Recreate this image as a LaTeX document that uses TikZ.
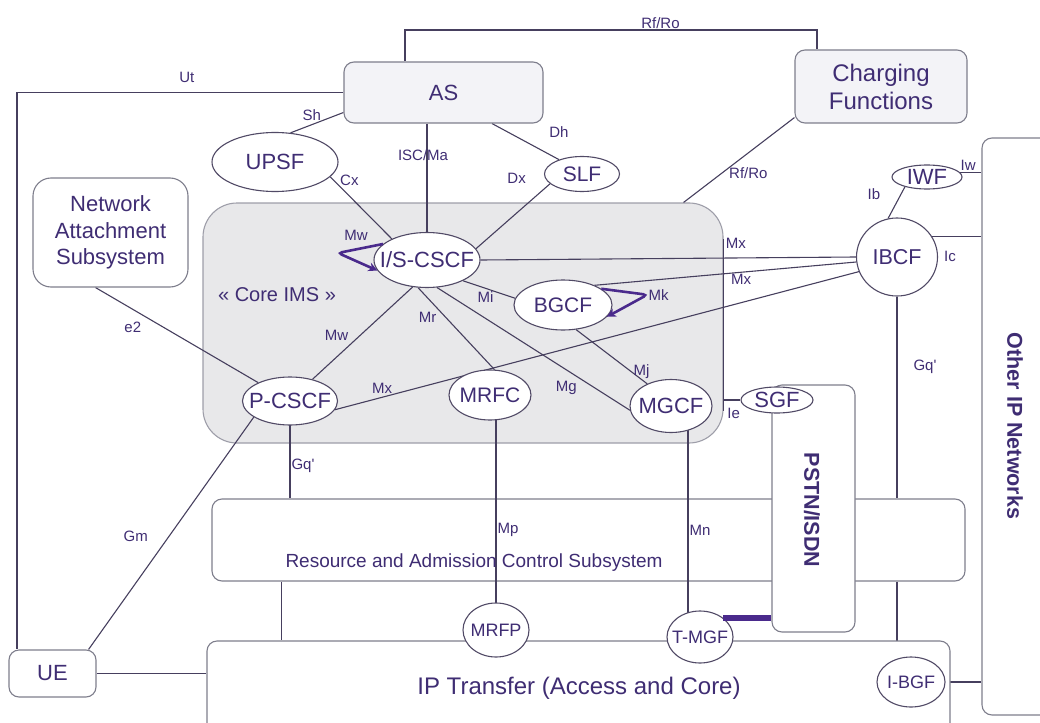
\documentclass[tikz,border=0pt]{standalone}
\usepackage{fontspec}
\setmainfont{Liberation Sans}
\usetikzlibrary{arrows.meta,positioning,shapes.geometric,backgrounds}
\definecolor{ink}{HTML}{3F2D73}
\definecolor{wire}{HTML}{463F5E}
\definecolor{rim}{HTML}{7E7E8C}
\definecolor{oval}{HTML}{514A66}
\definecolor{pale}{HTML}{F3F3F7}
\definecolor{coregray}{HTML}{E8E8EA}
\definecolor{deep}{HTML}{4A2A8C}
\pgfdeclarelayer{wires}
\pgfsetlayers{background,wires,main}
\tikzset{
  box/.style={draw=rim,line width=1.1pt,rounded corners=10pt,fill=white,text=ink,align=center,inner sep=0pt,font=\fontsize{22}{27}\selectfont},
  pbox/.style={box,fill=pale},
  ell/.style={ellipse,draw=oval,line width=1.1pt,fill=white,text=ink,inner sep=0pt,font=\fontsize{22}{26}\selectfont},
  sell/.style={ell,font=\fontsize{18}{22}\selectfont},
  ln/.style={draw=wire,line width=1.1pt},
  lbl/.style={text=ink,inner sep=1pt,font=\fontsize{15}{17}\selectfont},
  lp/.style={draw=deep,line width=2.6pt,rounded corners=4pt,-{Stealth[length=9pt,width=9pt]}},
  trunk/.style={draw=deep,line width=6pt},
  vtxt/.style={text=ink,rotate=-90,font=\bfseries\fontsize{21.5}{24}\selectfont},
}
\newcommand{\zw}[1]{\makebox[0pt]{#1}}

\begin{document}
\begin{tikzpicture}[x=1pt,y=-1pt]
\useasboundingbox (0,0) rectangle (1040,722);
\begin{scope}[on background layer]
\node[box,fill=coregray,draw=rim!75,rounded corners=34pt,minimum width=520pt,minimum height=240pt] (core) at (463,323) {};
\node[box,minimum width=753pt,minimum height=82pt] (racs) at (588.5,540) {};
\end{scope}
\node[text=ink,font=\fontsize{20}{24}\selectfont] (corelbl) at (277,295) {« Core IMS »};
\node[text=ink,font=\fontsize{19}{22}\selectfont] (racslbl) at (474,563) {Resource and Admission Control Subsystem};

\node[pbox,minimum width=199pt,minimum height=61pt] (as) at (443.5,92.5) {AS};
\node[pbox,minimum width=172pt,minimum height=73pt,font=\fontsize{24}{28}\selectfont] (chg) at (881,86.5) {Charging\\Functions};
\node[box,rounded corners=18pt,minimum width=155pt,minimum height=109pt,font=\fontsize{22}{26.5}\selectfont] (nas) at (110.5,232.5) {Network\\Attachment\\Subsystem};
\node[box,minimum width=87pt,minimum height=47pt] (ue) at (52.5,673.5) {UE};
\node[box,minimum width=743pt,minimum height=119pt] (ipt) at (578.5,700.5) {};
\node[text=ink,font=\fontsize{24}{28}\selectfont] (iptlbl) at (579,688) {IP Transfer (Access and Core)};
\node[box,minimum width=83pt,minimum height=247pt] (pstn) at (813.5,508.5) {};
\node[vtxt] (pstnlbl) at (812,510) {PSTN/ISDN};
\node[box,minimum width=88pt,minimum height=577pt] (other) at (1026,426.5) {};
\node[vtxt] (otherlbl) at (1015,426) {Other IP Networks};

\node[ell,minimum width=126pt,minimum height=59pt] (upsf) at (275,162) {\zw{UPSF}};
\node[ell,minimum width=75pt,minimum height=35pt,font=\fontsize{21}{24}\selectfont] (slf) at (582,174) {\zw{SLF}};
\node[ell,minimum width=106pt,minimum height=55pt] (iscscf) at (427,260) {\zw{I/S-CSCF}};
\node[ell,minimum width=98pt,minimum height=50pt,font=\fontsize{21}{24}\selectfont] (bgcf) at (563,305) {\zw{BGCF}};
\node[ell,minimum width=82pt,minimum height=50pt,font=\fontsize{21}{24}\selectfont] (mrfc) at (490,395) {\zw{MRFC}};
\node[ell,minimum width=95pt,minimum height=48pt] (pcscf) at (290,401) {\zw{P-CSCF}};
\node[ell,minimum width=82pt,minimum height=53pt] (mgcf) at (671,406) {\zw{MGCF}};
\node[ell,minimum width=81pt,minimum height=78pt,font=\fontsize{21.5}{24}\selectfont] (ibcf) at (897,257) {\zw{IBCF}};
\node[ell,minimum width=70pt,minimum height=24pt] (iwf) at (927,177) {\zw{IWF}};
\node[ell,minimum width=72pt,minimum height=26pt] (sgf) at (777,400) {\zw{SGF}};
\node[sell,minimum width=66pt,minimum height=54pt] (mrfp) at (496,630) {\zw{MRFP}};
\node[sell,minimum width=66pt,minimum height=52pt] (tmgf) at (700,637) {\zw{T-MGF}};
\node[sell,minimum width=68pt,minimum height=50pt] (ibgf) at (911,682) {\zw{I-BGF}};

\begin{pgfonlayer}{wires}
\coordinate (rfl) at (405,30);
\coordinate (rfr) at (817,30);
\coordinate (ut) at (17,92.5);
\coordinate (mn) at ([xshift=17pt]mgcf.center);
\coordinate (raip) at ([xshift=70pt]racs.south west);
\draw[ln] (as.north -| rfl) -- (rfl) -- node[lbl,above,pos=0.62]{Rf/Ro} (rfr) -- (chg.north -| rfr);
\draw[ln] ([yshift=6pt]chg.south west) -- node[lbl,pos=0.65,xshift=26pt]{Rf/Ro} ([xshift=-40pt]core.north east);
\draw[ln] (as.west) -- node[lbl,above=8pt,pos=0.48]{Ut} (ut) -- (ut |- ue.north);
\draw[ln] ([yshift=-20pt]as.west) -- node[lbl,pos=0.6,yshift=10pt]{Sh} (upsf.62);
\draw[ln] (as.south -| iscscf.north) -- node[lbl,pos=0.29,xshift=-4pt]{ISC/Ma} (iscscf.north);
\draw[ln] ([xshift=48.5pt]as.south) -- node[lbl,pos=0.7,xshift=20pt,yshift=17pt]{Dh} (slf.148);
\draw[ln] (upsf.-15) -- node[lbl,pos=0.05,xshift=16pt]{Cx} (iscscf.149);
\draw[ln] (slf.197) -- node[lbl,pos=0.1,xshift=-26pt,yshift=12pt]{Dx} (iscscf.13);
\draw[ln] ([xshift=-15pt]nas.south) -- node[lbl,pos=0.42,xshift=-31pt]{e2} (pcscf.150);
\draw[ln] (pcscf.204) -- node[lbl,pos=0.515,xshift=-33pt]{Gm} ([xshift=-8pt]ue.north east);
\draw[ln] (ue.east) -- (ue.east -| ipt.west);
\draw[ln] (pcscf.44) -- node[lbl,pos=0.48,xshift=-24pt]{Mw} (iscscf.242);
\draw[ln] (iscscf.252) -- node[lbl,pos=0.36,xshift=-18pt]{Mr} (mrfc.80);
\draw[ln] (iscscf.-30) -- node[lbl,pos=0.43,yshift=-9pt]{Mi} (bgcf.172);
\draw[ln] (iscscf.-70) -- node[lbl,pos=0.67,yshift=-18pt]{Mg} (mgcf.186);
\draw[ln] (bgcf.-62) -- node[lbl,pos=0.78,xshift=10pt]{Mj} (mgcf.137);
\draw[ln] (iscscf.east) -- node[lbl,pos=0.68,yshift=15pt]{Mx} (ibcf.west);
\draw[ln] (bgcf.32) -- node[lbl,pos=0.56,yshift=-7pt]{Mx} (ibcf.187);
\draw[ln] (pcscf.-11) -- node[lbl,pos=0.09,yshift=9pt]{Mx} (ibcf.201);
\draw[ln] (ibcf.103) -- node[lbl,pos=0.76,xshift=-27pt]{Ib} (iwf.204);
\draw[ln] (iwf.8) -- node[lbl,above,pos=0.38]{Iw} (iwf.8 -| other.west);
\draw[ln] (ibcf.30) -- node[lbl,pos=0.36,yshift=-20pt]{Ic} (ibcf.30 -| other.west);
\draw[ln] (ibcf.south) -- node[lbl,pos=0.35,xshift=28pt]{Gq\textquotesingle} (ibcf.south |- racs.north);
\draw[ln] (ibcf.south |- racs.south) -- (ibcf.south |- ibgf.center);
\draw[ln] (ibgf.center) -- (ibgf.center -| other.west);
\draw[ln] (pcscf.center) -- node[lbl,pos=0.67,anchor=west]{Gq\textquotesingle} (pcscf.center |- racs.north);
\draw[ln] (raip) -- (raip |- ipt.north);
\draw[ln] (mrfp.center |- mrfc.center) -- node[lbl,pos=0.574,anchor=west]{Mp} (mrfp.center);
\draw[ln] (mn) -- node[lbl,pos=0.537,anchor=west]{Mn} (mn |- tmgf.center);
\draw[ln] ([yshift=-37pt]core.north east) -- ([yshift=33pt]core.south east);
\draw[ln] (sgf.west -| core.east) -- node[lbl,pos=0.6,yshift=-13pt]{Ie} (sgf.west);
\end{pgfonlayer}

\draw[trunk] (tmgf.40) -- (tmgf.40 -| pstn.west);
\draw[lp] (iscscf.160) -- node[lbl,pos=0.6,yshift=14pt]{Mw} ++(-45,9) -- (iscscf.192);
\draw[lp] (bgcf.23) -- ++(46,6) node[lbl,anchor=west,inner sep=0pt]{Mk} -- (bgcf.-15);
\end{tikzpicture}
\end{document}
